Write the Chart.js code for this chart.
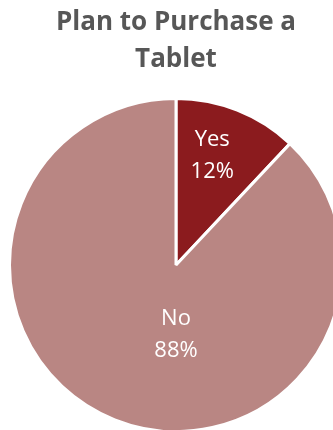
<!DOCTYPE html>
<html>
<head>
<meta charset="utf-8">
<script src="https://cdn.jsdelivr.net/npm/chart.js@4/dist/chart.umd.min.js"></script>
<style>
  html, body { margin: 0; padding: 0; background: #fff; overflow: hidden; }
  body { width: 333px; height: 430px; }
  #wrap { position: relative; width: 352px; height: 433px; }
</style>
</head>
<body>
<div id="wrap"><canvas id="c"></canvas></div>
<script>
// Survey answers and their shares (percent)
const categories = ['Yes', 'No'];
const shares = [12, 88];
const sliceColors = ['#8b1b1e', '#b98683'];
const chartTitle = ['Plan to Purchase a', 'Tablet'];

// Where each two-line label sits: angle (deg, 0 = right, clockwise) and fraction of the radius
const labelPlacement = [
  { angle: -71.6, radius: 0.69 },
  { angle: 90, radius: 0.418 }
];

const sliceLabels = {
  id: 'sliceLabels',
  afterDatasetsDraw(chart) {
    const ctx = chart.ctx;
    const meta = chart.getDatasetMeta(0);
    ctx.save();
    ctx.fillStyle = '#ffffff';
    ctx.font = '22px "Open Sans", sans-serif';
    ctx.textAlign = 'center';
    ctx.textBaseline = 'middle';
    meta.data.forEach((arc, i) => {
      const p = labelPlacement[i];
      const a = p.angle * Math.PI / 180;
      const r = arc.outerRadius * p.radius;
      const x = arc.x + Math.cos(a) * r;
      const y = arc.y + Math.sin(a) * r;
      ctx.fillText(categories[i], x, y - 16);
      ctx.fillText(shares[i] + '%', x, y + 16);
    });
    ctx.restore();
  }
};

new Chart(document.getElementById('c'), {
  type: 'pie',
  data: {
    labels: categories,
    datasets: [{
      data: shares,
      backgroundColor: sliceColors,
      borderColor: '#ffffff',
      borderWidth: 3,
      hoverOffset: 0
    }]
  },
  options: {
    responsive: true,
    maintainAspectRatio: false,
    animation: false,
    layout: { padding: 0 },
    plugins: {
      legend: { display: false },
      tooltip: { enabled: false },
      title: {
        display: true,
        text: chartTitle,
        color: '#575757',
        font: { family: '"Open Sans", sans-serif', size: 26, weight: 'bold', lineHeight: 37 / 26 },
        padding: { top: 4, bottom: 19 }
      }
    }
  },
  plugins: [sliceLabels]
});
</script>
</body>
</html>
